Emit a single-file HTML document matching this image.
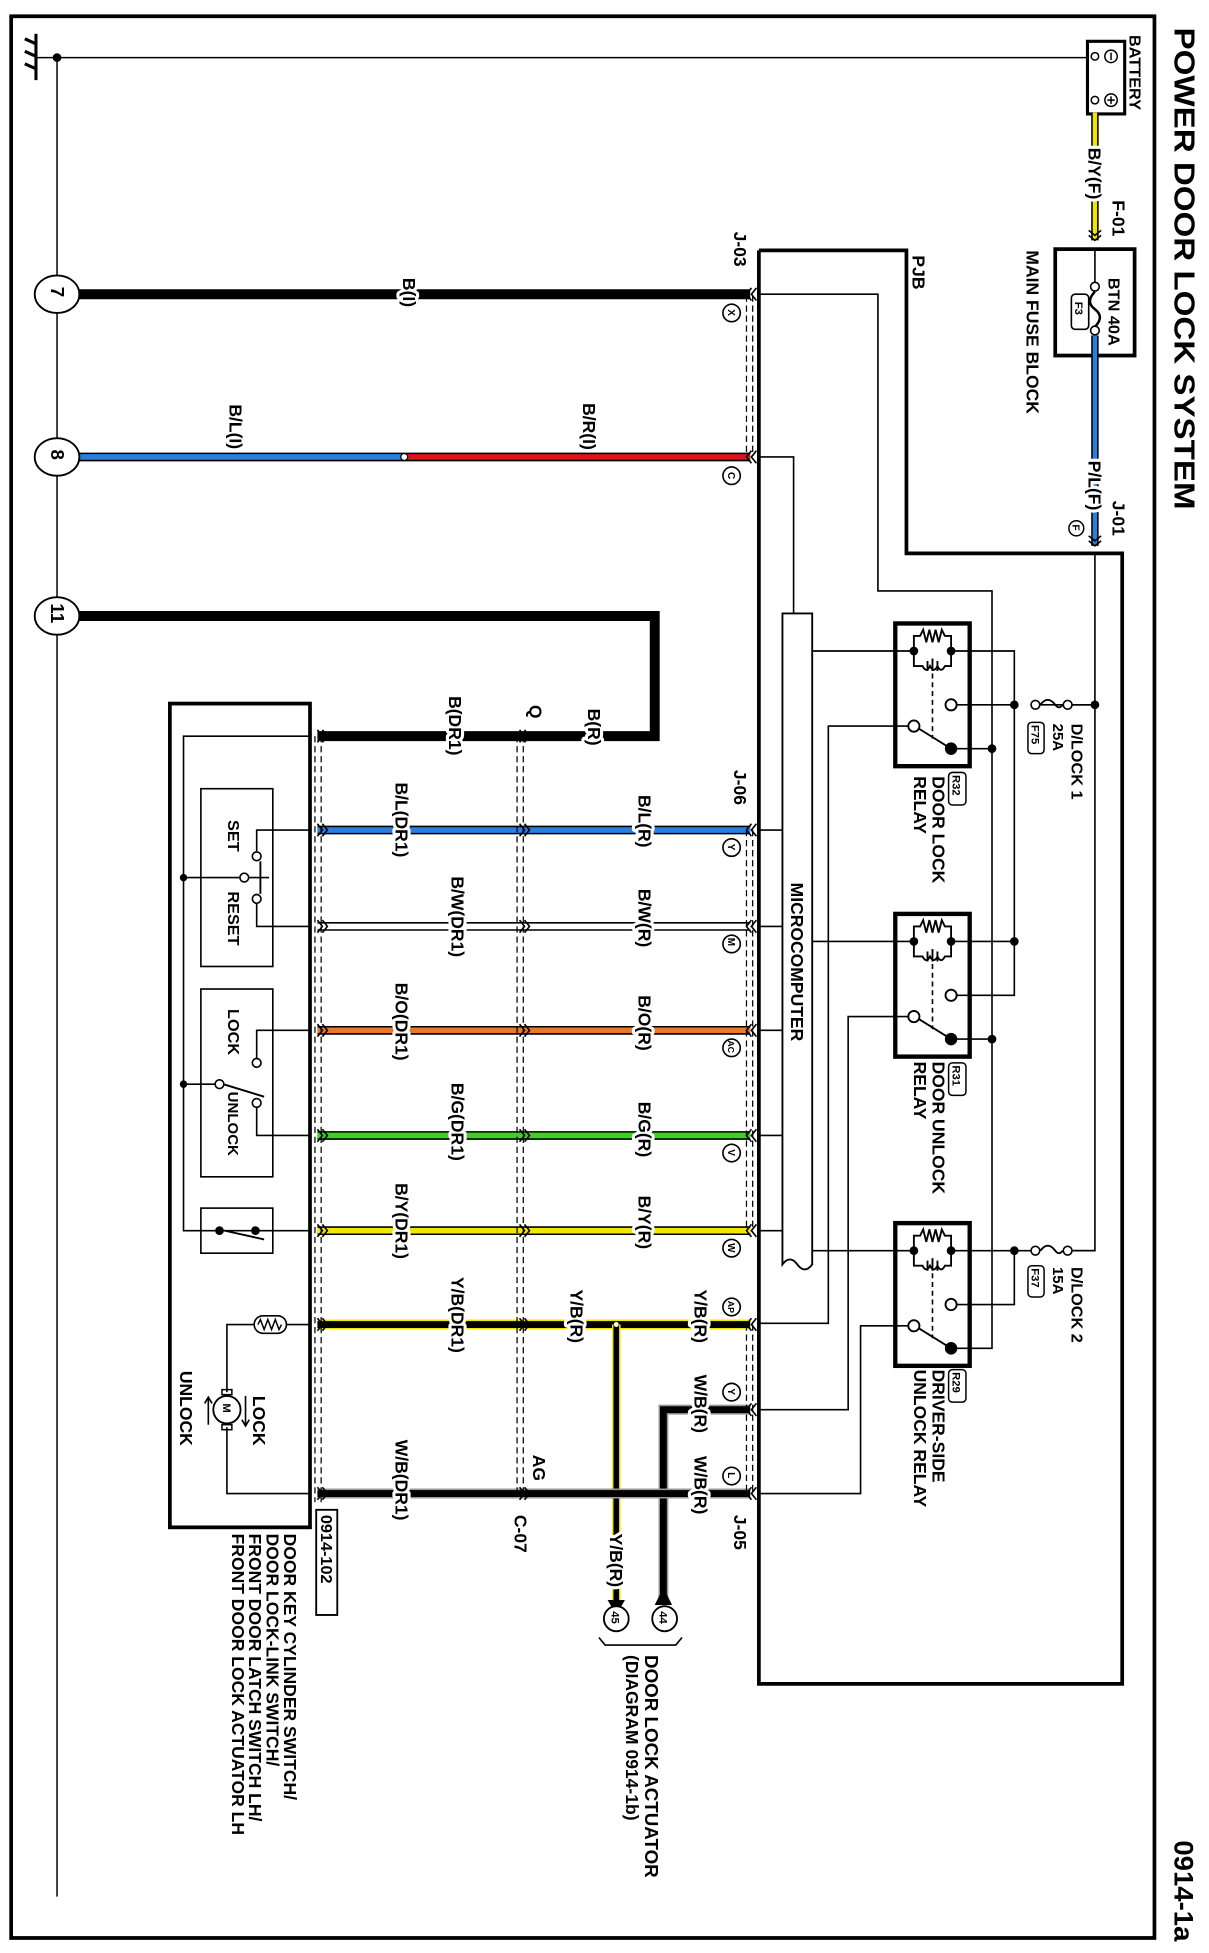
<!DOCTYPE html>
<html><head><meta charset="utf-8"><style>
html,body{margin:0;padding:0;background:#fff;}
svg{display:block;}
text{font-family:"Liberation Sans",sans-serif;font-weight:bold;fill:#000;}
.lb{paint-order:stroke;stroke:#fff;stroke-width:5px;stroke-linejoin:round;}
</style></head><body>
<svg width="1209" height="1953" viewBox="0 0 975 1560" preserveAspectRatio="none" xmlns="http://www.w3.org/2000/svg">
<defs>
<g id="rl">
 <rect x="0" y="0" width="60" height="114" fill="none" stroke="#000" stroke-width="3.5"/>
 <path d="M15 22 V10 H20 l2.5 -5 l2.5 10 l2.5 -10 l2.5 10 l2.5 -10 l2.5 10 l2.5 -10 l2.5 5 H45 V22" fill="none" stroke="#000" stroke-width="1.5"/>
 <path d="M15 22 V34 H22 q3 6 6 0 q3 6 6 0 q3 6 6 0 H45 V22" fill="none" stroke="#000" stroke-width="1.5"/>
 <path d="M26 30 v8 M30 28 v10 M34 30 v8" stroke="#000" stroke-width="1.5"/>
 <circle cx="15" cy="22" r="3.5"/><circle cx="45" cy="22" r="3.5"/>
 <line x1="30" y1="40" x2="30" y2="92" stroke="#000" stroke-width="1.3" stroke-dasharray="4 3"/>
 <circle cx="45" cy="65" r="4.5" fill="#fff" stroke="#000" stroke-width="1.5"/>
 <circle cx="15" cy="82" r="4.5" fill="#fff" stroke="#000" stroke-width="1.5"/>
 <line x1="19" y1="84" x2="45" y2="100" stroke="#000" stroke-width="1.5"/>
 <circle cx="45" cy="100" r="5"/>
</g>
<g id="cl"><polyline points="5,-5 1,0 5,5" fill="none" stroke="#000" stroke-width="1.3"/><polyline points="9,-5 5,0 9,5" fill="none" stroke="#000" stroke-width="1.3"/></g>
<g id="cr"><polyline points="-5,-5 -1,0 -5,5" fill="none" stroke="#000" stroke-width="1.3"/><polyline points="-9,-5 -5,0 -9,5" fill="none" stroke="#000" stroke-width="1.3"/></g>
</defs>

<!-- frame -->
<rect x="9" y="13" width="922" height="1535" fill="none" stroke="#000" stroke-width="3"/>
<!-- title -->
<text transform="translate(947,22) rotate(90)" font-size="23" textLength="385" lengthAdjust="spacingAndGlyphs">POWER DOOR LOCK SYSTEM</text>
<text transform="translate(947,1470) rotate(90)" font-size="22">0914-1a</text>

<!-- ground -->
<line x1="29" y1="27" x2="29" y2="64" stroke="#000" stroke-width="2.5"/>
<path d="M29 35 l-9 -4 M29 45 l-9 -4 M29 55 l-9 -4" stroke="#000" stroke-width="2.5"/>
<line x1="29" y1="46" x2="878" y2="46" stroke="#000" stroke-width="1.2"/>
<circle cx="46" cy="46" r="3.5"/>
<line x1="46" y1="46" x2="46" y2="1515" stroke="#000" stroke-width="1.2"/>

<!-- battery -->
<rect x="877" y="33" width="30" height="58" fill="#fff" stroke="#000" stroke-width="2.5"/>
<circle cx="896" cy="45" r="5" fill="none" stroke="#000" stroke-width="1.2"/><line x1="896" y1="42" x2="896" y2="48" stroke="#000" stroke-width="1.2"/>
<circle cx="896" cy="80" r="5" fill="none" stroke="#000" stroke-width="1.2"/><path d="M893 80h6M896 77v6" stroke="#000" stroke-width="1.2"/>
<circle cx="883" cy="45" r="3" fill="#fff" stroke="#000" stroke-width="1.2"/>
<circle cx="883" cy="80" r="3" fill="#fff" stroke="#000" stroke-width="1.2"/>
<text transform="translate(911,28) rotate(90)" font-size="13">BATTERY</text>
<!-- yellow BY(F) -->
<line x1="883" y1="90" x2="883" y2="192" stroke="#000" stroke-width="6"/>
<line x1="883" y1="90" x2="883" y2="192" stroke="#f2e600" stroke-width="3.5"/>
<text class="lb" transform="translate(878,118) rotate(90)" font-size="14">B/Y(F)</text>
<text transform="translate(897,160) rotate(90)" font-size="14">F-01</text>
<g transform="translate(883,193) rotate(-90)"><use href="#cl"/></g>
<!-- main fuse block -->
<rect x="851" y="199" width="64" height="85" fill="none" stroke="#000" stroke-width="3"/>
<line x1="883" y1="199" x2="883" y2="226" stroke="#000" stroke-width="1.3"/>
<circle cx="883" cy="229" r="3.5" fill="#fff" stroke="#000" stroke-width="1.3"/>
<path d="M883 233 q-8 8 0 14 q8 6 0 14" fill="none" stroke="#000" stroke-width="2"/>
<circle cx="883" cy="264" r="3.5" fill="#fff" stroke="#000" stroke-width="1.3"/>
<rect x="864" y="235" width="14" height="28" rx="3" fill="none" stroke="#000" stroke-width="1.3"/>
<text transform="translate(867,241) rotate(90)" font-size="9">F3</text>
<text transform="translate(894,222) rotate(90)" font-size="13">BTN 40A</text>
<text transform="translate(828,200) rotate(90)" font-size="14">MAIN FUSE BLOCK</text>
<!-- blue P/L(F) -->
<line x1="883" y1="268" x2="883" y2="436" stroke="#000" stroke-width="6"/>
<line x1="883" y1="268" x2="883" y2="436" stroke="#2a7ee0" stroke-width="3.5"/>
<rect x="870" y="284" width="26" height="0" stroke="#000" stroke-width="3"/>
<text class="lb" transform="translate(878,368) rotate(90)" font-size="14">P/L(F)</text>
<text transform="translate(897,400) rotate(90)" font-size="14">J-01</text>
<circle cx="868" cy="422" r="6" fill="none" stroke="#000" stroke-width="1.2"/><text transform="translate(865,419) rotate(90)" font-size="8">F</text>
<g transform="translate(883,437) rotate(-90)"><use href="#cl"/></g>

<!-- PJB outline -->
<polyline points="612,200 731,200 731,442 905,442 905,1345 612,1345 612,200" fill="none" stroke="#000" stroke-width="3"/>
<text transform="translate(736,204) rotate(90)" font-size="14">PJB</text>

<!-- internal thin wiring -->
<g fill="none" stroke="#000" stroke-width="1.3">
 <polyline points="612,235 708,235 708,472 800,472 800,1077 767,1077"/>
 <polyline points="612,365 640,365 640,490"/>
 <polyline points="883,442 883,999 862,999"/>
 <polyline points="767,563 818,563"/>
 <polyline points="838,563 883,563"/>
 <polyline points="767,520 818,520 818,795 767,795"/>
 <polyline points="767,752 818,752"/>
 <polyline points="767,999 838,999"/>
 <polyline points="818,999 818,1042 767,1042"/>
 <polyline points="767,598 800,598"/>
 <polyline points="767,830 800,830"/>
 <polyline points="655,520 737,520"/>
 <polyline points="655,752 737,752"/>
 <polyline points="655,999 737,999"/>
 <polyline points="737,580 668,580 668,1057 612,1057"/>
 <polyline points="737,812 684,812 684,1126 612,1126"/>
 <polyline points="737,1059 694,1059 694,1193 612,1193"/>
 <line x1="612" y1="663" x2="631" y2="663"/>
 <line x1="612" y1="740" x2="631" y2="740"/>
 <line x1="612" y1="823" x2="631" y2="823"/>
 <line x1="612" y1="907" x2="631" y2="907"/>
 <line x1="612" y1="983" x2="631" y2="983"/>
</g>
<circle cx="883" cy="563" r="3.5"/><circle cx="818" cy="563" r="3.5"/><circle cx="818" cy="752" r="3.5"/>
<circle cx="800" cy="598" r="3.5"/><circle cx="800" cy="830" r="3.5"/><circle cx="818" cy="999" r="3.5"/>
<!-- fuses D/LOCK -->
<circle cx="835" cy="563" r="3.5" fill="#fff" stroke="#000" stroke-width="1.3"/>
<path d="M839 563 q6 -8 12 0 q3 4 6 0" fill="none" stroke="#000" stroke-width="1.5"/>
<circle cx="861" cy="563" r="3.5" fill="#fff" stroke="#000" stroke-width="1.3"/>
<line x1="865" y1="563" x2="883" y2="563" stroke="#000" stroke-width="1.3"/>
<text transform="translate(864,578) rotate(90)" font-size="13">D/LOCK 1</text>
<text transform="translate(849,578) rotate(90)" font-size="12">25A</text>
<rect x="829" y="577" width="13" height="25" rx="3" fill="none" stroke="#000" stroke-width="1.2"/>
<text transform="translate(832,579) rotate(90)" font-size="9">F75</text>
<circle cx="835" cy="999" r="3.5" fill="#fff" stroke="#000" stroke-width="1.3"/>
<path d="M839 999 q6 -8 12 0 q3 4 6 0" fill="none" stroke="#000" stroke-width="1.5"/>
<circle cx="861" cy="999" r="3.5" fill="#fff" stroke="#000" stroke-width="1.3"/>
<line x1="865" y1="999" x2="883" y2="999" stroke="#000" stroke-width="1.3"/>
<text transform="translate(864,1012) rotate(90)" font-size="13">D/LOCK 2</text>
<text transform="translate(849,1012) rotate(90)" font-size="12">15A</text>
<rect x="829" y="1011" width="13" height="25" rx="3" fill="none" stroke="#000" stroke-width="1.2"/>
<text transform="translate(832,1013) rotate(90)" font-size="9">F37</text>

<!-- relays -->
<use href="#rl" x="722" y="498"/>
<use href="#rl" x="722" y="730"/>
<use href="#rl" x="722" y="977"/>
<rect x="765" y="617" width="14" height="26" rx="3" fill="none" stroke="#000" stroke-width="1.2"/>
<text transform="translate(768,619) rotate(90)" font-size="9">R32</text>
<text transform="translate(752,620) rotate(90)" font-size="14">DOOR LOCK</text>
<text transform="translate(737,620) rotate(90)" font-size="14">RELAY</text>
<rect x="765" y="849" width="14" height="26" rx="3" fill="none" stroke="#000" stroke-width="1.2"/>
<text transform="translate(768,851) rotate(90)" font-size="9">R31</text>
<text transform="translate(752,848) rotate(90)" font-size="14">DOOR UNLOCK</text>
<text transform="translate(737,848) rotate(90)" font-size="14">RELAY</text>
<rect x="765" y="1094" width="14" height="26" rx="3" fill="none" stroke="#000" stroke-width="1.2"/>
<text transform="translate(768,1096) rotate(90)" font-size="9">R29</text>
<text transform="translate(752,1094) rotate(90)" font-size="14">DRIVER-SIDE</text>
<text transform="translate(737,1094) rotate(90)" font-size="14">UNLOCK RELAY</text>

<!-- microcomputer -->
<path d="M631 490 H655 V1010 q-6 8 -12 0 q-6 -8 -12 0 Z" fill="#fff" stroke="#000" stroke-width="1.5"/>
<text transform="translate(638,705) rotate(90)" font-size="14">MICROCOMPUTER</text>

<!-- main wires -->
<g>
 <!-- 7 -->
 <line x1="52" y1="235" x2="605" y2="235" stroke="#000" stroke-width="8"/>
 <!-- 8 -->
 <line x1="52" y1="365" x2="326" y2="365" stroke="#000" stroke-width="7"/>
 <line x1="52" y1="365" x2="326" y2="365" stroke="#2a7ee0" stroke-width="4.5"/>
 <line x1="326" y1="365" x2="605" y2="365" stroke="#000" stroke-width="7"/>
 <line x1="326" y1="365" x2="605" y2="365" stroke="#d8161a" stroke-width="4.5"/>
 <circle cx="326" cy="365" r="2.8" fill="#fff" stroke="#000" stroke-width="1"/>
 <!-- 11 -->
 <polyline points="52,492 528,492 528,588 256,588" fill="none" stroke="#000" stroke-width="8"/>
 <!-- colored -->
 <line x1="256" y1="663" x2="605" y2="663" stroke="#000" stroke-width="7"/>
 <line x1="256" y1="663" x2="605" y2="663" stroke="#2a7ee0" stroke-width="4.5"/>
 <line x1="256" y1="740" x2="605" y2="740" stroke="#000" stroke-width="7"/>
 <line x1="256" y1="740" x2="605" y2="740" stroke="#fff" stroke-width="4.5"/>
 <line x1="256" y1="823" x2="605" y2="823" stroke="#000" stroke-width="7"/>
 <line x1="256" y1="823" x2="605" y2="823" stroke="#e8782a" stroke-width="4.5"/>
 <line x1="256" y1="907" x2="605" y2="907" stroke="#000" stroke-width="7"/>
 <line x1="256" y1="907" x2="605" y2="907" stroke="#3ed022" stroke-width="4.5"/>
 <line x1="256" y1="983" x2="605" y2="983" stroke="#000" stroke-width="7"/>
 <line x1="256" y1="983" x2="605" y2="983" stroke="#f2e600" stroke-width="4.5"/>
 <!-- Y/B -->
 <line x1="256" y1="1058" x2="605" y2="1058" stroke="#f2e600" stroke-width="8"/>
 <line x1="256" y1="1058" x2="605" y2="1058" stroke="#000" stroke-width="5.5"/>
 <line x1="497" y1="1058" x2="497" y2="1278" stroke="#f2e600" stroke-width="7"/>
 <line x1="497" y1="1058" x2="497" y2="1278" stroke="#000" stroke-width="4.5"/>
 <circle cx="497" cy="1058" r="2" fill="#fff"/>
 <polygon points="490,1278 504,1278 497,1290" fill="#000"/>
 <!-- W/B upper -->
 <polyline points="605,1126 535,1126 535,1278" fill="none" stroke="#999" stroke-width="8"/>
 <polyline points="605,1126 535,1126 535,1278" fill="none" stroke="#000" stroke-width="5.5"/>
 <polygon points="528,1282 542,1282 535,1268" fill="#000"/>
 <!-- W/B lower -->
 <line x1="256" y1="1193" x2="605" y2="1193" stroke="#999" stroke-width="8"/>
 <line x1="256" y1="1193" x2="605" y2="1193" stroke="#000" stroke-width="5.5"/>
</g>

<!-- connector dashes -->
<g stroke="#000" stroke-width="1" stroke-dasharray="5 3">
 <line x1="602" y1="236" x2="602" y2="364"/><line x1="607" y1="236" x2="607" y2="364"/>
 <line x1="602" y1="663" x2="602" y2="983"/><line x1="607" y1="663" x2="607" y2="983"/>
 <line x1="602" y1="1058" x2="602" y2="1193"/><line x1="607" y1="1058" x2="607" y2="1193"/>
 <line x1="254" y1="588" x2="254" y2="1200"/><line x1="259" y1="588" x2="259" y2="1200"/>
 <line x1="417" y1="588" x2="417" y2="1193"/><line x1="422" y1="588" x2="422" y2="1193"/>
</g>
<g>
 <use href="#cl" x="601" y="235"/><use href="#cl" x="601" y="365"/>
 <use href="#cl" x="601" y="663"/><use href="#cl" x="601" y="740"/><use href="#cl" x="601" y="823"/>
 <use href="#cl" x="601" y="907"/><use href="#cl" x="601" y="983"/><use href="#cl" x="601" y="1058"/>
 <use href="#cl" x="601" y="1126"/><use href="#cl" x="601" y="1193"/>
 <use href="#cr" x="265" y="588"/><use href="#cr" x="265" y="663"/><use href="#cr" x="265" y="740"/>
 <use href="#cr" x="265" y="823"/><use href="#cr" x="265" y="907"/><use href="#cr" x="265" y="983"/>
 <use href="#cr" x="265" y="1058"/><use href="#cr" x="265" y="1193"/>
 <use href="#cr" x="428" y="588"/><use href="#cr" x="428" y="663"/><use href="#cr" x="428" y="740"/>
 <use href="#cr" x="428" y="823"/><use href="#cr" x="428" y="907"/><use href="#cr" x="428" y="983"/>
 <use href="#cr" x="428" y="1058"/><use href="#cr" x="428" y="1193"/>
</g>

<!-- pin circles -->
<g fill="#fff" stroke="#000" stroke-width="1.3">
 <circle cx="590" cy="250" r="7"/><circle cx="590" cy="380" r="7"/>
 <circle cx="590" cy="677" r="7"/><circle cx="590" cy="754" r="7"/><circle cx="590" cy="837" r="7"/>
 <circle cx="590" cy="921" r="7"/><circle cx="590" cy="997" r="7"/><circle cx="590" cy="1044" r="7"/>
 <circle cx="590" cy="1112" r="7"/><circle cx="590" cy="1179" r="7"/>
</g>
<g font-size="8">
 <text transform="translate(587,247) rotate(90)">X</text><text transform="translate(587,377) rotate(90)">C</text>
 <text transform="translate(587,674) rotate(90)">Y</text><text transform="translate(587,749) rotate(90)">M</text>
 <text transform="translate(587,831) rotate(90)" font-size="7">AC</text><text transform="translate(587,918) rotate(90)">V</text>
 <text transform="translate(587,993) rotate(90)">W</text><text transform="translate(587,1039) rotate(90)" font-size="7">AP</text>
 <text transform="translate(587,1109) rotate(90)">Y</text><text transform="translate(587,1176) rotate(90)">L</text>
</g>

<!-- ground circles -->
<g fill="#fff" stroke="#000" stroke-width="1.5">
 <ellipse cx="46" cy="235" rx="18" ry="15"/><ellipse cx="46" cy="365" rx="18" ry="15"/><ellipse cx="46" cy="492" rx="18" ry="15"/>
</g>
<text transform="translate(41,229) rotate(90)" font-size="15">7</text>
<text transform="translate(41,359) rotate(90)" font-size="15">8</text>
<text transform="translate(41,482) rotate(90)" font-size="15">11</text>

<!-- wire labels -->
<g font-size="14" class="lb">
 <text class="lb" transform="translate(325,222) rotate(90)">B(I)</text>
 <text class="lb" transform="translate(185,323) rotate(90)">B/L(I)</text>
 <text class="lb" transform="translate(470,322) rotate(90)">B/R(I)</text>
 <text class="lb" transform="translate(474,566) rotate(90)">B(R)</text>
 <text class="lb" transform="translate(427,563) rotate(90)">Q</text>
 <text class="lb" transform="translate(362,556) rotate(90)">B(DR1)</text>
 <text class="lb" transform="translate(592,615) rotate(90)">J-06</text>
 <text class="lb" transform="translate(592,185) rotate(90)">J-03</text>
 <text class="lb" transform="translate(319,625) rotate(90)">B/L(DR1)</text>
 <text class="lb" transform="translate(515,635) rotate(90)">B/L(R)</text>
 <text class="lb" transform="translate(364,700) rotate(90)">B/W(DR1)</text>
 <text class="lb" transform="translate(515,710) rotate(90)">B/W(R)</text>
 <text class="lb" transform="translate(319,785) rotate(90)">B/O(DR1)</text>
 <text class="lb" transform="translate(515,795) rotate(90)">B/O(R)</text>
 <text class="lb" transform="translate(364,865) rotate(90)">B/G(DR1)</text>
 <text class="lb" transform="translate(515,880) rotate(90)">B/G(R)</text>
 <text class="lb" transform="translate(319,945) rotate(90)">B/Y(DR1)</text>
 <text class="lb" transform="translate(515,955) rotate(90)">B/Y(R)</text>
 <text class="lb" transform="translate(364,1020) rotate(90)">Y/B(DR1)</text>
 <text class="lb" transform="translate(460,1030) rotate(90)">Y/B(R)</text>
 <text class="lb" transform="translate(560,1030) rotate(90)">Y/B(R)</text>
 <text class="lb" transform="translate(560,1098) rotate(90)">W/B(R)</text>
 <text class="lb" transform="translate(560,1163) rotate(90)">W/B(R)</text>
 <text class="lb" transform="translate(319,1150) rotate(90)">W/B(DR1)</text>
 <text class="lb" transform="translate(430,1162) rotate(90)">AG</text>
 <text class="lb" transform="translate(415,1210) rotate(90)">C-07</text>
 <text class="lb" transform="translate(592,1210) rotate(90)">J-05</text>
 <text class="lb" transform="translate(492,1225) rotate(90)">Y/B(R)</text>
</g>

<!-- 44/45 -->
<circle cx="536" cy="1293" r="10" fill="#fff" stroke="#000" stroke-width="1.5"/>
<text transform="translate(532,1287) rotate(90)" font-size="9">44</text>
<circle cx="497" cy="1293" r="10" fill="#fff" stroke="#000" stroke-width="1.5"/>
<text transform="translate(493,1287) rotate(90)" font-size="9">45</text>
<path d="M483 1308 l5 6 H545 l5 -6" fill="none" stroke="#000" stroke-width="1.3"/>
<text transform="translate(520,1322) rotate(90)" font-size="15">DOOR LOCK ACTUATOR</text>
<text transform="translate(505,1322) rotate(90)" font-size="14">(DIAGRAM 0914-1b)</text>

<!-- left component box -->
<rect x="137" y="562" width="113" height="658" fill="none" stroke="#000" stroke-width="3"/>
<g fill="none" stroke="#000" stroke-width="1.3">
 <polyline points="250,588 148,588 148,983 250,983"/>
 <rect x="162" y="630" width="58" height="142"/>
 <rect x="162" y="790" width="58" height="150"/>
 <rect x="162" y="965" width="58" height="36"/>
 <polyline points="148,701 200,701"/>
 <line x1="200" y1="701" x2="217" y2="701"/>
 <polyline points="250,663 207,663 207,680"/>
 <polyline points="250,740 207,740 207,722"/>
 <line x1="210" y1="688" x2="210" y2="714" stroke-width="1.5"/>
 <polyline points="148,866 177,866"/>
 <polyline points="250,823 207,823 207,845"/>
 <polyline points="250,907 207,907 207,885"/>
 <line x1="180" y1="866" x2="213" y2="876" stroke-width="1.5"/>
 <line x1="181" y1="983" x2="213" y2="990" stroke-width="1.5"/>
 <polyline points="250,1058 230,1058"/>
 <polyline points="205,1058 183,1058 183,1112"/>
 <polyline points="183,1140 183,1193 250,1193"/>
</g>
<circle cx="148" cy="701" r="3"/><circle cx="148" cy="866" r="3"/>
<g fill="#fff" stroke="#000" stroke-width="1.3">
 <circle cx="197" cy="701" r="3.5"/><circle cx="207" cy="684" r="3.5"/><circle cx="207" cy="718" r="3.5"/>
 <circle cx="177" cy="866" r="3.5"/><circle cx="207" cy="849" r="3.5"/><circle cx="207" cy="881" r="3.5"/>
</g>
<circle cx="177" cy="983" r="3.5"/><circle cx="206" cy="983" r="3.5"/>
<text transform="translate(184,655) rotate(90)" font-size="13">SET</text>
<text transform="translate(184,712) rotate(90)" font-size="13">RESET</text>
<text transform="translate(184,806) rotate(90)" font-size="13">LOCK</text>
<text transform="translate(184,872) rotate(90)" font-size="12">UNLOCK</text>
<!-- resistor -->
<rect x="205" y="1051" width="26" height="14" rx="7" fill="#fff" stroke="#000" stroke-width="1.3"/>
<path d="M208 1058 l2 -4 l3 8 l3 -8 l3 8 l3 -8 l3 8 l2 -4" fill="none" stroke="#000" stroke-width="1.2"/>
<!-- motor -->
<rect x="179" y="1110" width="8" height="4" fill="none" stroke="#000" stroke-width="1.2"/>
<rect x="179" y="1138" width="8" height="4" fill="none" stroke="#000" stroke-width="1.2"/>
<circle cx="183" cy="1126" r="11" fill="#fff" stroke="#000" stroke-width="1.5"/>
<text transform="translate(180,1121) rotate(90)" font-size="9">M</text>
<path d="M198 1115 V1138 M195 1134 l3 5 l3 -5" fill="none" stroke="#000" stroke-width="1.3"/>
<path d="M168 1117 V1138 M165 1121 l3 -5 l3 5" fill="none" stroke="#000" stroke-width="1.3"/>
<text transform="translate(204,1115) rotate(90)" font-size="14">LOCK</text>
<text transform="translate(145,1095) rotate(90)" font-size="14">UNLOCK</text>
<!-- labels -->
<rect x="255" y="1206" width="17" height="84" fill="none" stroke="#000" stroke-width="1.5"/>
<text transform="translate(259,1210) rotate(90)" font-size="13">0914-102</text>
<g font-size="14">
 <text transform="translate(229,1225) rotate(90)">DOOR KEY CYLINDER SWITCH/</text>
 <text transform="translate(215,1225) rotate(90)">DOOR LOCK-LINK SWITCH/</text>
 <text transform="translate(201,1225) rotate(90)">FRONT DOOR LATCH SWITCH LH/</text>
 <text transform="translate(187,1225) rotate(90)">FRONT DOOR LOCK ACTUATOR LH</text>
</g>
</svg>
</body></html>
